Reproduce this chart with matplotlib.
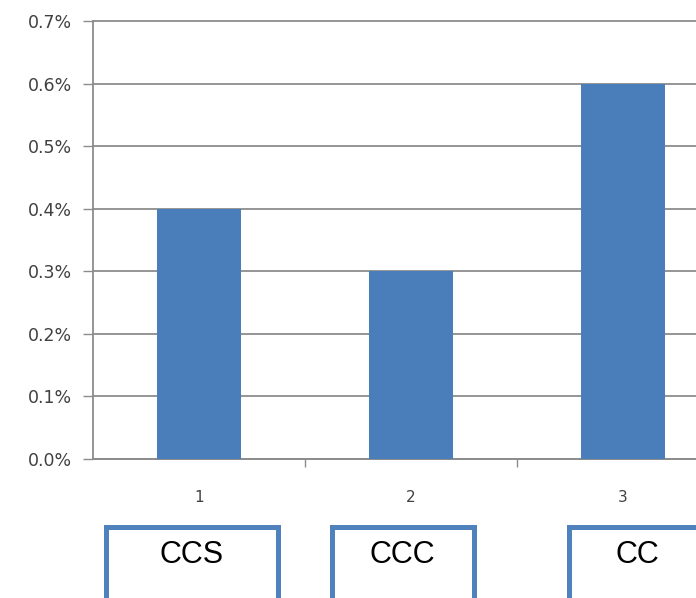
import matplotlib
matplotlib.use("Agg")
import matplotlib.pyplot as plt
from matplotlib.lines import Line2D
from matplotlib.ticker import FuncFormatter, FixedLocator

categories = [1, 2, 3]
values = [0.4, 0.3, 0.6]  # percent
yticks = [0.0, 0.1, 0.2, 0.3, 0.4, 0.5, 0.6, 0.7]
box_labels = ["CCS", "CCC", "CC"]

W, H = 696, 598
fig = plt.figure(figsize=(W / 100, H / 100), dpi=100)
fig.patch.set_facecolor("white")

# axes in pixel geometry (right edge runs past the figure like the reference crop)
left_px, right_px, top_px, bot_px = 93, 729, 21, 459
ax = fig.add_axes([left_px / W, (H - bot_px) / H, (right_px - left_px) / W, (bot_px - top_px) / H])

ax.bar(categories, values, width=0.4, color="#4a7ebb", zorder=3)
ax.set_xlim(0.5, 3.5)
ax.set_ylim(0, 0.7)
ax.set_yticks(yticks)
ax.yaxis.set_major_formatter(FuncFormatter(lambda v, p: f"{v:.1f}%"))
ax.grid(axis="y", color="#8c8c8c", linewidth=1.3, zorder=0)
for gl in ax.get_ygridlines():
    gl.set_clip_on(False)

ax.set_xticks(categories)
ax.set_xticklabels([str(c) for c in categories])
ax.xaxis.set_minor_locator(FixedLocator([1.5, 2.5, 3.5]))
ax.tick_params(axis="x", which="major", length=0, pad=22, labelsize=11, labelcolor="#404040")
ax.tick_params(axis="x", which="minor", length=6, width=1, color="#8c8c8c", direction="out")
ax.tick_params(axis="y", length=7, width=1, color="#8c8c8c", direction="out", pad=8,
               labelsize=12.5, labelcolor="#404040")
for lbl in ax.get_yticklabels() + ax.get_xticklabels():
    lbl.set_fontfamily("DejaVu Sans")

for s in ["top", "right"]:
    ax.spines[s].set_visible(False)
for s in ["left", "bottom"]:
    ax.spines[s].set_color("#8c8c8c")
    ax.spines[s].set_linewidth(1.3)

# boxes below the chart (open at bottom, running off the figure)
box_color = "#4f81bd"
lw = 5 * 72 / 100
boxes = [(105.5, 277.5), (331.5, 473.5), (568.5, 760)]
text_x = [191.5, 402.5, 637]
top_y = 526.5

def fx(px):
    return px / W

def fy(py):
    return (H - py) / H

for (x0, x1), lab, tx in zip(boxes, box_labels, text_x):
    fig.add_artist(Line2D([fx(x0), fx(x0), fx(x1), fx(x1)],
                          [fy(H + 10), fy(top_y), fy(top_y), fy(H + 10)],
                          color=box_color, linewidth=lw, solid_joinstyle="miter"))
    fig.text(fx(tx), fy(555), lab, ha="center", va="center", fontsize=22,
             family="Liberation Sans", color="black")

fig.savefig("out.png", dpi=100, facecolor="white")
